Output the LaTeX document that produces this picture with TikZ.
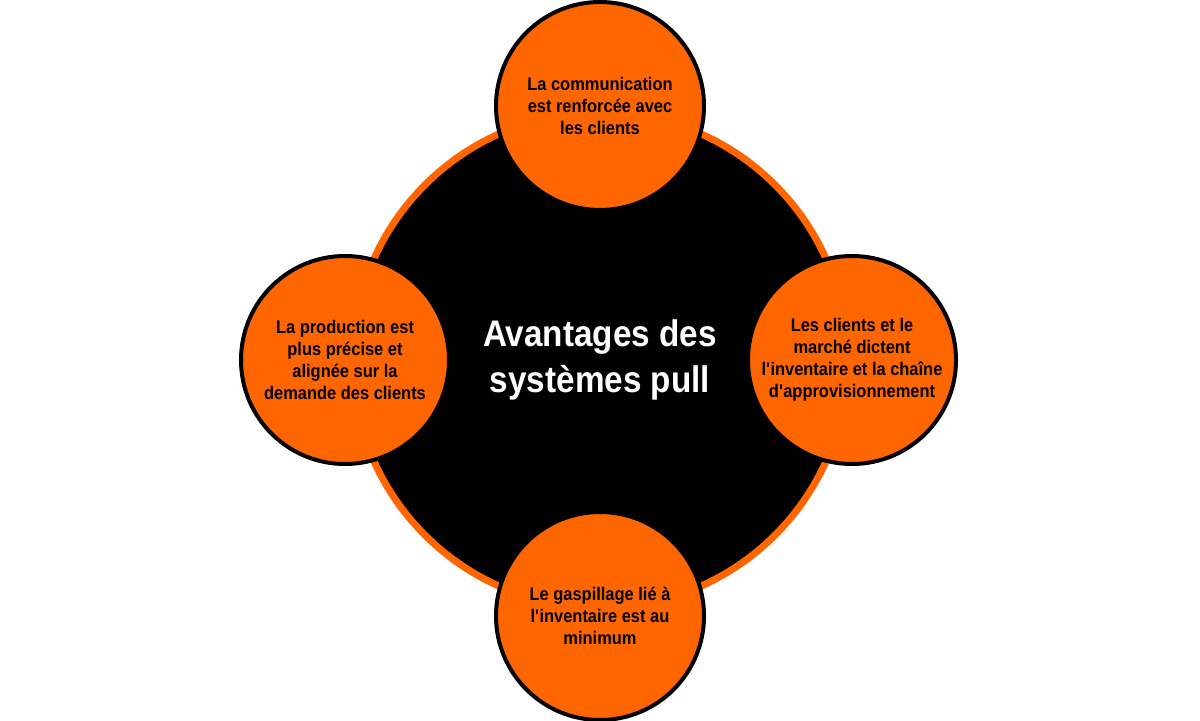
\documentclass[tikz,border=0pt]{standalone}
\usepackage{fontspec}
\setmainfont{Liberation Sans}[FakeStretch=0.9]
\definecolor{pullorange}{HTML}{FF6600}

\begin{document}
\begin{tikzpicture}[
    hub/.style={circle, fill=black, draw=pullorange, line width=0.175cm,
      minimum size=12.38cm, text=white, align=center,
      font=\bfseries\fontsize{26.3}{33}\selectfont},
    bubble/.style={circle, fill=pullorange, draw=black, line width=0.1cm,
      minimum size=5.2cm, align=center, inner sep=0pt,
      font=\bfseries\fontsize{13}{15.6}\selectfont}
  ]
  \useasboundingbox (0,0) rectangle (30,18);

  % centre
  \node[hub] (hub) at (15,9) {Avantages des\\syst\`emes pull};

  % avantages
  \node[bubble] (comm) at (15,15.35) {La communication\\est renforc\'ee avec\\les clients};
  \node[bubble] (march) at (21.3,9) {Les clients et le\\march\'e dictent\\l\textquotesingle inventaire et la cha\^ine\\d\textquotesingle approvisionnement};
  \node[bubble] (gasp) at (15,2.6) {Le gaspillage li\'e \`a\\l\textquotesingle inventaire est au\\minimum};
  \node[bubble] (prod) at (8.625,9) {La production est\\plus pr\'ecise et\\align\'ee sur la\\demande des clients};
\end{tikzpicture}
\end{document}
